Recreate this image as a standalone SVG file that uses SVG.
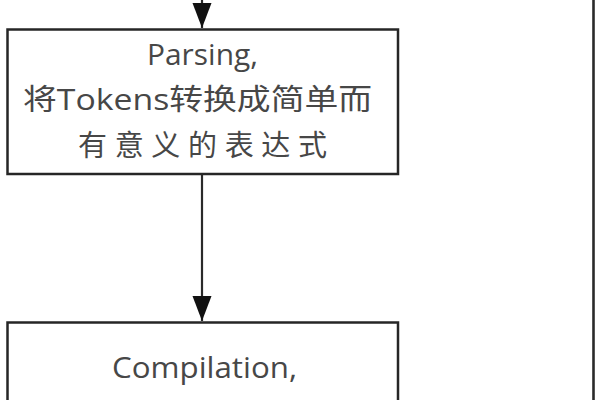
<svg xmlns="http://www.w3.org/2000/svg" width="600" height="400" viewBox="0 0 600 400">
  <style>
    .box { fill: #ffffff; stroke: #262626; stroke-width: 2.5; }
    .lbl { font-family: "Open Sans", "Noto Sans CJK SC", sans-serif; font-size: 29px; fill: #474747; text-anchor: start; }
    .conn { fill: none; stroke: #2a2a2a; stroke-width: 2.2; }
  </style>
  <defs>
    <marker id="arrow" markerUnits="userSpaceOnUse" markerWidth="26" markerHeight="20" refX="25" refY="9.5" orient="auto">
      <path d="M0,0 L25,9.5 L0,19 z" fill="#111111"/>
    </marker>
  </defs>
  <rect width="600" height="400" fill="#ffffff"/>
  <g id="connectors">
    <line class="conn" x1="202" y1="-30" x2="202" y2="28" marker-end="url(#arrow)"/>
    <line class="conn" x1="202" y1="174" x2="202" y2="321" marker-end="url(#arrow)"/>
    <line class="conn" x1="593.5" y1="0" x2="593.5" y2="400" style="stroke-width:2.6"/>
  </g>
  <g id="parsing">
    <rect class="box" x="7.5" y="29.5" width="390.5" height="144.5"/>
    <text class="lbl" x="147" y="65" textLength="111" lengthAdjust="spacingAndGlyphs">Parsing,</text>
    <text class="lbl" x="23" y="110" textLength="349" lengthAdjust="spacingAndGlyphs">将Tokens转换成简单而</text>
    <text class="lbl" x="78" y="156" textLength="249" lengthAdjust="spacing">有意义的表达式</text>
  </g>
  <g id="compilation">
    <rect class="box" x="7.5" y="322.5" width="390.5" height="100"/>
    <text class="lbl" x="112" y="378" textLength="185" lengthAdjust="spacingAndGlyphs">Compilation,</text>
  </g>
</svg>
